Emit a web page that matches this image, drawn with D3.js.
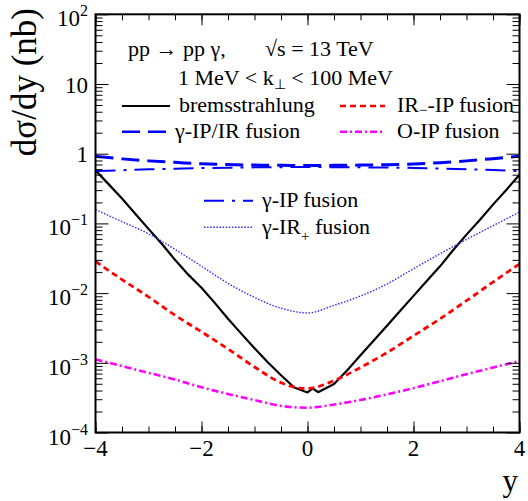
<!DOCTYPE html>
<html>
<head>
<meta charset="utf-8">
<script src="https://cdn.jsdelivr.net/npm/d3@7"></script>
<style>
  body { margin: 0; background: #fff; }
  svg { display: block; }
  text { font-family: "Liberation Serif", "Times New Roman", serif; fill: #000; }
</style>
</head>
<body>
<svg id="chart" width="528" height="501"></svg>
<script>
// Rapidity grid shared by the smooth model curves
const rapidity = [-4, -3.5, -3, -2.5, -2, -1.5, -1, -0.5, 0, 0.5, 1, 1.5, 2, 2.5, 3, 3.5, 4];

// Bremsstrahlung (Monte Carlo, sampled finer)
const bremsRapidity = [-4, -3.75, -3.5, -3.25, -3, -2.75, -2.5, -2.25, -2, -1.75, -1.5, -1.25, -1, -0.75,
                       -0.5, -0.25, 0, 0.1, 0.2, 0.5, 0.75, 1, 1.25, 1.5, 1.75, 2, 2.25, 2.5, 2.75,
                       3, 3.25, 3.5, 3.75, 4];
const bremsstrahlung = [0.577, 0.363, 0.227, 0.138, 0.0834, 0.051, 0.0300, 0.0184, 0.0119, 7.24e-3,
                        4.29e-3, 2.62e-3, 1.62e-3, 1.02e-3, 6.63e-4, 4.43e-4, 3.75e-4, 4.28e-4, 3.79e-4,
                        4.97e-4, 7.83e-4, 1.28e-3, 2.09e-3, 3.41e-3, 5.6e-3, 9.12e-3, 0.0149, 0.0242,
                        0.0415, 0.069, 0.112, 0.186, 0.302, 0.50];

// dσ/dy in nb for the fusion mechanisms
const irMinusIP   = [0.0285, 0.0156, 8.85e-3, 4.82e-3, 2.78e-3, 1.58e-3, 8.71e-4, 5.17e-4, 4.28e-4,
                     5.55e-4, 8.57e-4, 1.40e-3, 2.44e-3, 4.27e-3, 7.78e-3, 0.0144, 0.0262];
const gammaIPIR   = [0.916, 0.843, 0.789, 0.751, 0.715, 0.698, 0.687, 0.680, 0.676,
                     0.680, 0.687, 0.696, 0.710, 0.743, 0.789, 0.849, 0.916];
const odderonIP   = [1.12e-3, 8.95e-4, 7.18e-4, 5.77e-4, 4.46e-4, 3.57e-4, 2.92e-4, 2.41e-4, 2.27e-4,
                     2.52e-4, 2.93e-4, 3.52e-4, 4.33e-4, 5.43e-4, 6.87e-4, 8.55e-4, 1.06e-3];
const gammaIP     = [0.564, 0.580, 0.596, 0.610, 0.622, 0.630, 0.637, 0.641, 0.643,
                     0.641, 0.637, 0.632, 0.626, 0.613, 0.600, 0.582, 0.564];
const gammaIRplus = [0.158, 0.106, 0.071, 0.0424, 0.0243, 0.0138, 8.67e-3, 6.07e-3, 5.19e-3,
                     6.68e-3, 9.08e-3, 0.0135, 0.0224, 0.0367, 0.0589, 0.0927, 0.145];

// Axis ticks
const xMajorTicks = [-4, -2, 0, 2, 4];
const xMinorTicks = d3.range(-4, 4.001, 0.5);
const yDecades = [-4, -3, -2, -1, 0, 1, 2];

const svg = d3.select("#chart");
const frame = { left: 95.5, right: 519.5, top: 14.3, bottom: 432.5 };

const x = d3.scaleLinear().domain([-4, 4]).range([frame.left, frame.right]);
const y = d3.scaleLog().domain([1e-4, 1e2]).range([frame.bottom, frame.top]);

svg.append("rect").attr("width", 528).attr("height", 501).attr("fill", "#fff");

svg.append("clipPath").attr("id", "plot-clip")
  .append("rect")
  .attr("x", frame.left).attr("y", frame.top)
  .attr("width", frame.right - frame.left).attr("height", frame.bottom - frame.top);

// ---- curves ----
const series = [
  { xs: bremsRapidity, ys: bremsstrahlung, color: "#000000", width: 2.2, dash: null, curve: d3.curveLinear },
  { xs: rapidity, ys: irMinusIP,   color: "#ff0000", width: 2.8, dash: "6,4",        curve: d3.curveMonotoneX },
  { xs: rapidity, ys: gammaIPIR,   color: "#0000ff", width: 3,   dash: "18,8",       curve: d3.curveMonotoneX },
  { xs: rapidity, ys: odderonIP,   color: "#ff00ff", width: 2.6, dash: "7,3,2,3",    curve: d3.curveMonotoneX },
  { xs: rapidity, ys: gammaIP,     color: "#0000ff", width: 2,   dash: "20,8,3,8",   curve: d3.curveMonotoneX },
  { xs: rapidity, ys: gammaIRplus, color: "#2a2aff", width: 1.4, dash: "1.5,1.6",    curve: d3.curveMonotoneX }
];

const curves = svg.append("g").attr("clip-path", "url(#plot-clip)");
series.forEach(s => {
  const pts = s.xs.map((v, i) => [v, s.ys[i]]);
  const line = d3.line().x(d => x(d[0])).y(d => y(d[1])).curve(s.curve);
  curves.append("path")
    .attr("d", line(pts))
    .attr("fill", "none")
    .attr("stroke", s.color)
    .attr("stroke-width", s.width)
    .attr("stroke-dasharray", s.dash)
    .attr("stroke-linejoin", "round");
});

// ---- axes (ticks point into the frame on all four sides) ----
const yMinor = [];
yDecades.slice(0, -1).forEach(k => { for (let m = 2; m <= 9; m++) yMinor.push(m * Math.pow(10, k)); });
const yMajor = yDecades.map(k => Math.pow(10, k));

function styleAxis(g) {
  g.select(".domain").remove();
  g.selectAll(".tick line").attr("stroke", "#000").attr("stroke-width", 1);
  g.selectAll(".tick text").remove();
}
const axes = svg.append("g");
axes.append("g").attr("transform", `translate(0,${frame.bottom})`)
  .call(d3.axisBottom(x).tickValues(xMinorTicks).tickSize(-6).tickFormat("")).call(styleAxis);
axes.append("g").attr("transform", `translate(0,${frame.bottom})`)
  .call(d3.axisBottom(x).tickValues(xMajorTicks).tickSize(-11).tickFormat("")).call(styleAxis);
axes.append("g").attr("transform", `translate(0,${frame.top})`)
  .call(d3.axisTop(x).tickValues(xMinorTicks).tickSize(-6).tickFormat("")).call(styleAxis);
axes.append("g").attr("transform", `translate(0,${frame.top})`)
  .call(d3.axisTop(x).tickValues(xMajorTicks).tickSize(-11).tickFormat("")).call(styleAxis);
axes.append("g").attr("transform", `translate(${frame.left},0)`)
  .call(d3.axisLeft(y).tickValues(yMinor).tickSize(-7).tickFormat("")).call(styleAxis);
axes.append("g").attr("transform", `translate(${frame.left},0)`)
  .call(d3.axisLeft(y).tickValues(yMajor).tickSize(-13).tickFormat("")).call(styleAxis);
axes.append("g").attr("transform", `translate(${frame.right},0)`)
  .call(d3.axisRight(y).tickValues(yMinor).tickSize(-7).tickFormat("")).call(styleAxis);
axes.append("g").attr("transform", `translate(${frame.right},0)`)
  .call(d3.axisRight(y).tickValues(yMajor).tickSize(-13).tickFormat("")).call(styleAxis);

svg.append("rect")
  .attr("x", frame.left).attr("y", frame.top)
  .attr("width", frame.right - frame.left).attr("height", frame.bottom - frame.top)
  .attr("fill", "none").attr("stroke", "#000").attr("stroke-width", 2);

// ---- tick labels ----
const minus = "\u2212";
xMajorTicks.forEach(v => {
  svg.append("text")
    .attr("x", x(v)).attr("y", 456)
    .attr("text-anchor", "middle").attr("font-size", 23)
    .text(v < 0 ? minus + Math.abs(v) : String(v));
});

yDecades.forEach(k => {
  const yy = y(Math.pow(10, k));
  const t = svg.append("text").attr("x", 88).attr("text-anchor", "end").attr("font-size", 23);
  if (k === 0 || k === 1) {
    t.attr("y", yy + 8.5).text(k === 0 ? "1" : "10");
  } else {
    t.attr("y", yy + 12);
    t.append("tspan").text("10");
    t.append("tspan").attr("font-size", 16).attr("dy", -10)
      .text(k < 0 ? minus + Math.abs(k) : String(k));
  }
});

// ---- axis titles ----
svg.append("text")
  .attr("transform", "translate(36,8) rotate(-90)")
  .attr("text-anchor", "end").attr("font-size", 35)
  .text("d\u03c3/dy (nb)");

svg.append("text")
  .attr("x", 518).attr("y", 491).attr("text-anchor", "end").attr("font-size", 31)
  .text("y");

// ---- process description ----
svg.append("text").attr("x", 128).attr("y", 56).attr("font-size", 22)
  .text("pp \u2192 pp \u03b3,");
svg.append("text").attr("x", 265).attr("y", 56).attr("font-size", 22)
  .text("\u221as = 13 TeV");

const kt = svg.append("text").attr("x", 178).attr("y", 85).attr("font-size", 22);
kt.append("tspan").text("1 MeV < k");
kt.append("tspan").attr("font-size", 14).attr("dy", 4).text("\u22a5");
kt.append("tspan").attr("dy", -4).text(" < 100 MeV");

// ---- legends ----
function legendLine(x1, x2, yy, s) {
  svg.append("line")
    .attr("x1", x1).attr("x2", x2).attr("y1", yy).attr("y2", yy)
    .attr("stroke", s.color).attr("stroke-width", Math.min(s.width, 2.4))
    .attr("stroke-dasharray", s.dash);
}
function legendText(xx, yy, parts) {
  const t = svg.append("text").attr("x", xx).attr("y", yy).attr("font-size", 22);
  parts.forEach(p => {
    const ts = t.append("tspan").text(p.text);
    if (p.sub) ts.attr("font-size", 15).attr("dy", p.dy);
    if (p.back) ts.attr("dy", p.back);
  });
}

legendLine(122, 170, 106, series[0]);
legendText(179, 112, [{ text: "bremsstrahlung" }]);
legendLine(340, 385, 106, series[1]);
legendText(397, 112, [{ text: "IR" }, { text: "\u2212", sub: true, dy: 3 }, { text: "-IP fusion", back: -3 }]);
legendLine(122, 166, 131.7, series[2]);
legendText(175, 138, [{ text: "\u03b3-IP/IR fusion" }]);
legendLine(340, 385, 131.7, series[3]);
legendText(397, 138, [{ text: "O-IP fusion" }]);

legendLine(204, 253, 200.7, series[4]);
legendText(262, 207, [{ text: "\u03b3-IP fusion" }]);
legendLine(204, 253, 227.3, series[5]);
legendText(262, 233.5, [{ text: "\u03b3-IR" }, { text: "+", sub: true, dy: 7 }, { text: " fusion", back: -7 }]);
</script>
</body>
</html>
